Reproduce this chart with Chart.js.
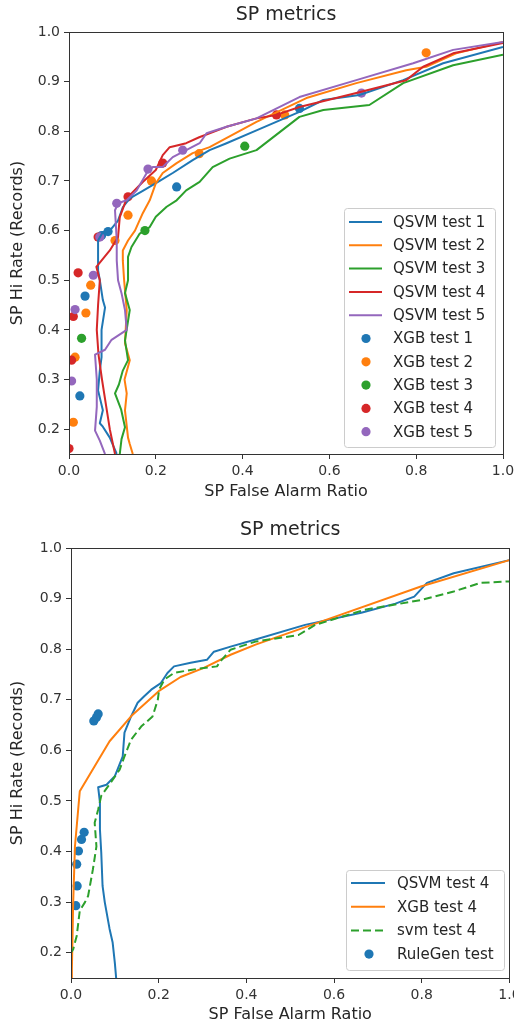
<!DOCTYPE html>
<html><head><meta charset="utf-8">
<script src="https://cdn.jsdelivr.net/npm/chart.js@4.4.0/dist/chart.umd.min.js"></script>
<style>
html,body{margin:0;padding:0;background:#fff;}
canvas{display:block;position:absolute;left:0;}
#c1{top:0}
#c2{top:514px}
</style></head><body>
<canvas id="c1" width="514" height="514"></canvas>
<canvas id="c2" width="514" height="514"></canvas>
<script>
// ---------- DATA (x = SP False Alarm Ratio, y = SP Hi Rate) ----------
const chartTitle = 'SP metrics';
const xAxisLabel = 'SP False Alarm Ratio';
const yAxisLabel = 'SP Hi Rate (Records)';
const xTickValues = [0, 0.2, 0.4, 0.6, 0.8, 1.0];
const yTickValues = [0.2, 0.3, 0.4, 0.5, 0.6, 0.7, 0.8, 0.9, 1.0];

// Top chart
const topLineLabels = ['QSVM test 1','QSVM test 2','QSVM test 3','QSVM test 4','QSVM test 5'];
const topDotLabels  = ['XGB test 1','XGB test 2','XGB test 3','XGB test 4','XGB test 5'];

const qsvm1 = [[0.110,0.15],[0.094,0.183],[0.078,0.205],[0.071,0.212],[0.078,0.238],[0.072,0.26],[0.067,0.278],[0.071,0.318],[0.075,0.345],[0.075,0.40],[0.083,0.445],[0.078,0.46],[0.071,0.50],[0.067,0.52],[0.067,0.58],[0.078,0.597],[0.094,0.60],[0.113,0.62],[0.124,0.647],[0.14,0.665],[0.17,0.68],[0.209,0.70],[0.239,0.716],[0.285,0.742],[0.324,0.762],[0.363,0.776],[0.432,0.802],[0.531,0.839],[0.586,0.863],[0.669,0.873],[0.77,0.903],[0.862,0.937],[1.0,0.97]];
const qsvm2 = [[0.147,0.15],[0.140,0.17],[0.136,0.183],[0.129,0.238],[0.133,0.272],[0.128,0.30],[0.14,0.339],[0.129,0.373],[0.133,0.44],[0.127,0.50],[0.124,0.54],[0.124,0.56],[0.136,0.58],[0.152,0.60],[0.17,0.635],[0.186,0.661],[0.2,0.695],[0.216,0.716],[0.248,0.736],[0.285,0.756],[0.324,0.768],[0.432,0.819],[0.547,0.867],[0.662,0.897],[0.777,0.923],[0.823,0.93],[0.892,0.957],[1.0,0.98]];
const qsvm3 = [[0.117,0.15],[0.121,0.18],[0.129,0.204],[0.12,0.24],[0.106,0.272],[0.115,0.29],[0.124,0.318],[0.136,0.339],[0.129,0.379],[0.14,0.44],[0.129,0.474],[0.136,0.50],[0.136,0.547],[0.144,0.567],[0.163,0.594],[0.186,0.607],[0.2,0.628],[0.225,0.648],[0.248,0.661],[0.27,0.681],[0.301,0.698],[0.331,0.728],[0.37,0.745],[0.432,0.762],[0.531,0.829],[0.586,0.843],[0.692,0.853],[0.77,0.897],[0.885,0.933],[1.0,0.954]];
const qsvm4 = [[0.106,0.15],[0.094,0.2],[0.085,0.25],[0.076,0.3],[0.068,0.35],[0.064,0.4],[0.067,0.45],[0.071,0.5],[0.063,0.527],[0.094,0.56],[0.113,0.587],[0.117,0.627],[0.133,0.665],[0.144,0.675],[0.17,0.698],[0.2,0.722],[0.216,0.752],[0.232,0.768],[0.27,0.776],[0.30,0.788],[0.363,0.809],[0.432,0.826],[0.478,0.833],[0.531,0.849],[0.662,0.877],[0.777,0.903],[0.816,0.93],[0.885,0.957],[1.0,0.978]];
const qsvm5 = [[0.083,0.15],[0.071,0.177],[0.06,0.197],[0.064,0.245],[0.064,0.30],[0.06,0.35],[0.083,0.36],[0.098,0.38],[0.133,0.40],[0.129,0.44],[0.121,0.474],[0.113,0.50],[0.11,0.54],[0.11,0.58],[0.106,0.641],[0.113,0.655],[0.133,0.661],[0.156,0.681],[0.179,0.716],[0.193,0.728],[0.216,0.728],[0.239,0.748],[0.27,0.762],[0.301,0.776],[0.317,0.796],[0.363,0.809],[0.432,0.826],[0.531,0.869],[0.662,0.903],[0.793,0.937],[0.885,0.964],[1.0,0.98]];

const xgb1 = [[0.025,0.267],[0.037,0.468],[0.075,0.59],[0.09,0.598],[0.248,0.688],[0.531,0.846]];
const xgb2 = [[0.01,0.214],[0.014,0.345],[0.039,0.434],[0.05,0.49],[0.106,0.58],[0.136,0.631],[0.19,0.70],[0.30,0.755],[0.497,0.833],[0.823,0.958]];
const xgb3 = [[0.029,0.383],[0.175,0.60],[0.405,0.77]];
const xgb4 = [[0.0,0.161],[0.006,0.339],[0.01,0.427],[0.021,0.515],[0.067,0.587],[0.136,0.668],[0.216,0.736],[0.478,0.833]];
const xgb5 = [[0.006,0.297],[0.014,0.441],[0.056,0.51],[0.071,0.587],[0.11,0.655],[0.182,0.724],[0.262,0.762],[0.674,0.877]];

// Bottom chart
const bottomLabels = ['QSVM test 4','XGB test 4','svm test 4','RuleGen test'];
const qsvmTest4 = [[0.103,0.15],[0.1,0.18],[0.095,0.22],[0.088,0.247],[0.077,0.30],[0.072,0.332],[0.069,0.398],[0.066,0.444],[0.066,0.497],[0.062,0.527],[0.081,0.532],[0.1,0.549],[0.106,0.562],[0.118,0.588],[0.122,0.635],[0.137,0.667],[0.152,0.694],[0.167,0.707],[0.183,0.72],[0.205,0.733],[0.22,0.753],[0.235,0.766],[0.273,0.773],[0.31,0.779],[0.326,0.795],[0.364,0.805],[0.421,0.819],[0.534,0.848],[0.662,0.872],[0.74,0.89],[0.783,0.904],[0.812,0.931],[0.873,0.95],[1.0,0.976]];
const xgbTest4 = [[0.0,0.15],[0.002,0.166],[0.005,0.30],[0.009,0.41],[0.02,0.519],[0.088,0.618],[0.14,0.67],[0.2,0.717],[0.25,0.745],[0.303,0.763],[0.364,0.789],[0.421,0.809],[0.572,0.855],[0.798,0.924],[1.0,0.976]];
const svmTest4 = [[0.0,0.15],[0.0,0.2],[0.005,0.207],[0.013,0.233],[0.02,0.283],[0.032,0.30],[0.039,0.312],[0.05,0.365],[0.058,0.41],[0.054,0.457],[0.062,0.483],[0.069,0.51],[0.088,0.533],[0.111,0.562],[0.122,0.588],[0.137,0.621],[0.16,0.647],[0.186,0.667],[0.198,0.70],[0.201,0.72],[0.213,0.74],[0.235,0.753],[0.273,0.759],[0.303,0.763],[0.333,0.766],[0.341,0.776],[0.364,0.799],[0.421,0.815],[0.519,0.828],[0.557,0.848],[0.67,0.878],[0.798,0.897],[0.873,0.914],[0.934,0.931],[1.0,0.934]];
const ruleGen = [[0.011,0.293],[0.014,0.332],[0.013,0.375],[0.017,0.401],[0.024,0.424],[0.03,0.438],[0.052,0.658],[0.058,0.665],[0.062,0.672]];

// ---------- STYLE ----------
const FONT = '"DejaVu Sans", sans-serif';
const C = ['#1f77b4','#ff7f0e','#2ca02c','#d62728','#9467bd'];
const TXT = '#262626';
const AX = '#333333';

const toXY = arr => arr.map(([x, y]) => ({x, y}));

function lineDS(label, data, color, order, dash) {
  return { label, data: toXY(data), showLine: true, borderColor: color, backgroundColor: color,
    borderWidth: 2, borderDash: dash || [], pointRadius: 0, pointHoverRadius: 0, tension: 0,
    fill: false, borderJoinStyle: 'round', clip: 0, order };
}
function dotDS(label, data, color, order) {
  return { label, data: toXY(data), showLine: false, borderColor: color, backgroundColor: color,
    borderWidth: 0, pointRadius: 4.6, pointHoverRadius: 4.6, pointBorderWidth: 0, clip: 0, order };
}

const framePlugin = {
  id: 'frame',
  afterDatasetsDraw(chart) {
    const {ctx, chartArea: a} = chart;
    ctx.save();
    ctx.strokeStyle = AX; ctx.lineWidth = 1;
    ctx.strokeRect(Math.round(a.left) + 0.5, Math.round(a.top) + 0.5, Math.round(a.right - a.left), Math.round(a.bottom - a.top));
    ctx.restore();
  }
};

const boxLegend = {
  id: 'boxLegend',
  afterDraw(chart, args, o) {
    const {ctx} = chart;
    ctx.save();
    ctx.beginPath();
    if (ctx.roundRect) ctx.roundRect(o.x + 0.5, o.y + 0.5, o.w, o.h, 3); else ctx.rect(o.x + 0.5, o.y + 0.5, o.w, o.h);
    ctx.fillStyle = 'rgba(255,255,255,0.8)'; ctx.fill();
    ctx.strokeStyle = '#cccccc'; ctx.lineWidth = 1; ctx.stroke();
    ctx.font = '15px ' + FONT; ctx.textBaseline = 'middle'; ctx.textAlign = 'left';
    chart.data.datasets.forEach((ds, i) => {
      const y = o.y0 + i * o.step;
      if (ds.showLine === false) {
        ctx.beginPath(); ctx.arc(o.dotX, y, 4.6, 0, Math.PI * 2);
        ctx.fillStyle = ds.backgroundColor; ctx.fill();
      } else {
        ctx.beginPath(); ctx.setLineDash(ds.borderDash || []);
        ctx.moveTo(o.x1, y); ctx.lineTo(o.x2, y);
        ctx.strokeStyle = ds.borderColor; ctx.lineWidth = 2; ctx.stroke(); ctx.setLineDash([]);
      }
      ctx.fillStyle = TXT; ctx.fillText(ds.label, o.textX, y + 1);
    });
    ctx.restore();
  }
};

function makeOptions(cfg) {
  return {
    responsive: false, animation: false, devicePixelRatio: 1,
    events: [],
    layout: { padding: { left: 0, right: cfg.padRight, top: 0, bottom: 0 } },
    plugins: {
      legend: { display: false }, tooltip: { enabled: false },
      title: { display: true, text: chartTitle, fullSize: false, color: TXT,
        font: { family: FONT, size: 19, weight: 'normal', lineHeight: 1.2 },
        padding: { top: cfg.titleTop, bottom: cfg.titleBottom } },
      boxLegend: cfg.legend
    },
    scales: {
      x: {
        type: 'linear', min: 0, max: 1,
        afterBuildTicks: s => { s.ticks = xTickValues.map(v => ({ value: v })); },
        afterFit: s => { s.height = cfg.xHeight; s.paddingLeft = 0; s.paddingRight = 0; },
        ticks: { callback: v => Number(v).toFixed(1), font: { family: FONT, size: 14 }, color: AX, padding: 4, maxRotation: 0, autoSkip: false },
        grid: { drawOnChartArea: false, drawTicks: true, tickLength: 5, tickColor: AX, tickWidth: 1 },
        border: { display: false },
        title: { display: true, text: xAxisLabel, color: TXT, font: { family: FONT, size: 16, lineHeight: 1.2 }, padding: { top: 0, bottom: cfg.xTitlePad } }
      },
      y: {
        type: 'linear', min: 0.15, max: 1.0,
        afterBuildTicks: s => { s.ticks = yTickValues.map(v => ({ value: v })); },
        afterFit: s => { s.width = cfg.yWidth; s.paddingTop = 0; s.paddingBottom = 0; },
        ticks: { callback: v => Number(v).toFixed(1), font: { family: FONT, size: 14 }, color: AX, padding: 4, autoSkip: false },
        grid: { drawOnChartArea: false, drawTicks: true, tickLength: 5, tickColor: AX, tickWidth: 1 },
        border: { display: false },
        title: { display: true, text: yAxisLabel, color: TXT, font: { family: FONT, size: 16, lineHeight: 1.2 }, padding: { top: 8, bottom: 0 } }
      }
    }
  };
}

const topLines = [qsvm1, qsvm2, qsvm3, qsvm4, qsvm5];
const topDots = [xgb1, xgb2, xgb3, xgb4, xgb5];
const topDatasets = [
  ...topLines.map((d, i) => lineDS(topLineLabels[i], d, C[i], 5 - i)),
  ...topDots.map((d, i) => dotDS(topDotLabels[i], d, C[i], 20 - i))
];

new Chart(document.getElementById('c1'), {
  type: 'scatter',
  data: { datasets: topDatasets },
  options: makeOptions({ padRight: 11, titleTop: 3.4, titleBottom: 5.8, xHeight: 60, xTitlePad: 12.4, yWidth: 69,
    legend: { x: 344, y: 208, w: 151, h: 239, y0: 222, step: 23.3, x1: 349, x2: 382, dotX: 366, textX: 393 } }),
  plugins: [framePlugin, boxLegend]
});

new Chart(document.getElementById('c2'), {
  type: 'scatter',
  data: { datasets: [
    lineDS(bottomLabels[0], qsvmTest4, C[0], 3),
    lineDS(bottomLabels[1], xgbTest4, C[1], 2),
    lineDS(bottomLabels[2], svmTest4, C[2], 1, [8, 4]),
    dotDS(bottomLabels[3], ruleGen, C[0], 10)
  ] },
  options: makeOptions({ padRight: 1, titleTop: 4.4, titleBottom: 6.8, xHeight: 50, xTitlePad: 3.4, yWidth: 71,
    legend: { x: 346, y: 356, w: 158, h: 100, y0: 369, step: 23.7, x1: 351, x2: 385, dotX: 369, textX: 397 } }),
  plugins: [framePlugin, boxLegend]
});
</script>
</body></html>
